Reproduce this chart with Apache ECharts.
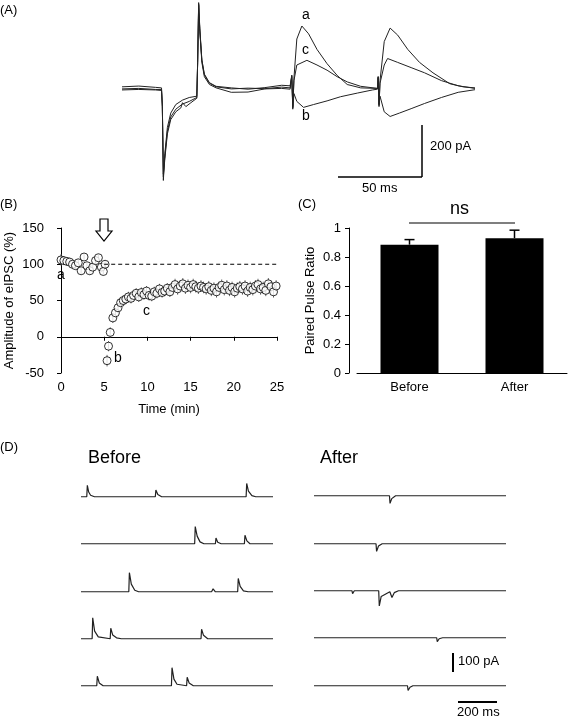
<!DOCTYPE html>
<html>
<head>
<meta charset="utf-8">
<script src="https://cdn.jsdelivr.net/npm/echarts@6/dist/echarts.min.js"></script>
<style>html,body{margin:0;padding:0;background:#fff}#main{width:572px;height:720px}</style>
</head>
<body>
<div id="main"></div>
<script>
var FONT = 'Liberation Sans';

// (A) evoked IPSC traces, [ms, pA]
var traceA = [[0,6],[10,9],[20,4],[23.5,2],[24,-60],[24.6,-354],[25.5,-250],[27,-150],[29,-95],[32,-62],[36,-45],[40,-35],[44.5,-30],[45,100],[45.6,330],[46.3,230],[47.5,110],[49,55],[52,22],[56,8],[65,2],[75,-3],[85,3],[95,12],[100,10],[101,50],[101.6,-80],[102.3,40],[104,190],[107,240],[111,210],[116,150],[122,95],[128,50],[134,15],[142,2],[152,0],[152.4,45],[152.9,-70],[153.5,30],[156,180],[159.5,232],[164,205],[170,150],[177,100],[185,60],[195,18],[203,6],[210,2]];
var traceC = [[0,-2],[10,0],[20,-4],[23.5,-4],[24,-70],[24.6,-340],[25.5,-270],[27,-175],[29,-120],[32,-90],[35,-75],[36,-55],[38,-70],[41,-55],[44.5,-38],[45,100],[45.6,325],[46.3,225],[47.5,108],[49,52],[52,20],[56,6],[65,-2],[75,1],[85,-1],[95,5],[100,2],[101,50],[101.6,-70],[102.3,30],[104,90],[110,108],[116,90],[122,70],[128,45],[134,25],[142,8],[152,0],[152.4,45],[152.9,-65],[153.5,20],[156,90],[158,115],[164,100],[172,80],[180,60],[190,30],[200,10],[210,0]];
var traceB = [[0,-6],[10,-4],[20,-6],[23.5,-8],[24,-70],[24.6,-330],[25.5,-260],[27,-165],[29,-110],[32,-80],[36,-60],[40,-50],[44.5,-35],[45,100],[45.6,320],[46.3,220],[47.5,100],[49,45],[52,15],[56,2],[65,-15],[75,-14],[85,-2],[95,0],[100,-3],[101,45],[101.6,-75],[102.3,-20],[104,-50],[108,-73],[114,-62],[122,-48],[130,-32],[140,-18],[149,-6],[152,-3],[152.4,40],[152.9,-60],[153.5,-30],[156,-90],[159.5,-108],[165,-95],[172,-78],[180,-58],[190,-35],[200,-15],[210,-5]];

// (B) time course [min, % amplitude, s.e.m.]
var bPoints = [[0,106,8],[0.33,105,6],[0.67,104,5],[1,103,5],[1.33,100,5],[1.67,98,5],[2,102,5],[2.33,91,5],[2.67,110,5],[3,98,5],[3.33,91,5],[3.67,96,5],[4,105,5],[4.33,109,5],[4.67,96,5],[4.9,90,5],[5.1,100,5],
  [5.33,-33,8],[5.5,-13,7],[5.7,6,7],[6,26,7],[6.3,33,7],[6.6,40,7],[6.9,47,7],[7.2,50,7],[7.5,52,7],[7.8,55,7],[8.1,53,7],
  [8.4,57,7],[8.7,60,7],[9,55,7],[9.3,61,7],[9.6,58,7],[9.9,63,7],[10.2,57,7],[10.5,56,7],[10.8,62,7],[11.1,60,7],[11.4,66,7],[11.7,61,7],[12,63,7],[12.3,67,7],[12.6,62,7],[12.9,68,7],[13.2,72,8],[13.5,66,8],[13.8,70,8],[14.1,73,8],[14.4,67,8],[14.7,71,8],[15,68,8],[15.3,72,8],[15.6,69,8],[15.9,67,8],[16.2,70,8],[16.5,68,8],[16.8,66,8],[17.1,69,8],[17.4,64,8],[17.7,67,8],[18,62,8],[18.3,68,8],[18.6,71,8],[18.9,65,8],[19.2,70,8],[19.5,64,8],[19.8,68,8],[20.1,62,8],[20.4,67,8],[20.7,69,8],[21,66,8],[21.3,70,8],[21.6,63,8],[21.9,68,8],[22.2,65,8],[22.5,70,8],[22.8,72,8],[23.1,66,8],[23.4,68,8],[23.7,64,8],[24,73,8],[24.3,69,8],[24.6,62,8],[24.9,70,8]];

// (C) paired pulse ratio
var cCats = ['Before', 'After'];
var cMeans = [0.885, 0.93];
var cErr = [0.035, 0.055];

// (D) spontaneous IPSC sweeps, [ms, pA]
var before1 = [[0,0],[30,0],[33,60],[40,25],[50,8],[70,0],[387,0],[390,35],[400,12],[420,0],[860,0],[863,70],[872,30],[890,6],[910,0],[1000,0]];
var before2 = [[0,0],[592,0],[595,90],[605,40],[620,10],[640,0],[700,0],[703,30],[712,8],[730,0],[851,0],[854,45],[864,15],[880,0],[1000,0]];
var before3 = [[0,0],[249,0],[252,100],[262,40],[280,8],[300,0],[680,0],[688,15],[700,0],[816,0],[819,70],[829,28],[846,5],[870,0],[1000,0]];
var before4 = [[0,0],[58,0],[61,110],[71,40],[90,10],[152,0],[155,55],[165,20],[185,5],[210,0],[625,0],[628,50],[638,18],[660,0],[1000,0]];
var before5 = [[0,0],[82,0],[85,50],[95,15],[115,0],[471,0],[474,95],[484,35],[500,8],[550,0],[553,45],[563,15],[585,0],[1000,0]];
var after1 = [[0,0],[393,0],[396,-40],[405,-15],[425,0],[1000,0]];
var after2 = [[0,0],[323,0],[326,-40],[336,-12],[355,0],[1000,0]];
var after3 = [[0,0],[198,0],[201,-15],[210,0],[337,0],[340,-80],[350,-30],[395,-5],[406,-35],[418,-10],[440,0],[1000,0]];
var after4 = [[0,0],[639,0],[642,-20],[652,-5],[670,0],[1000,0]];
var after5 = [[0,0],[487,0],[490,-25],[500,-8],[515,0],[773,0],[776,-10],[790,0],[1000,0]];
var beforeSweeps = [before1, before2, before3, before4, before5];
var afterSweeps = [after1, after2, after3, after4, after5];
var dBeforeBase = [497, 544, 592, 639, 686];
var dAfterBase = [496, 544, 591, 638, 686];

var chart = echarts.init(document.getElementById('main'));
var txt = {fontFamily: FONT, color: '#000', fontSize: 13};

var grids = [], xAxes = [], yAxes = [], series = [];

// (A)
grids.push({left: 122, top: 0, width: 353, height: 182});
xAxes.push({type: 'value', gridIndex: 0, min: 0, max: 210, show: false});
yAxes.push({type: 'value', gridIndex: 0, min: -360, max: 340, show: false});
[traceA, traceC, traceB].forEach(function (d) {
  series.push({type: 'line', xAxisIndex: 0, yAxisIndex: 0, data: d, showSymbol: false, silent: true,
    lineStyle: {color: '#222', width: 1}});
});

// (B)
grids.push({left: 61, top: 228, width: 216, height: 145});
xAxes.push({type: 'value', gridIndex: 1, min: 0, max: 25, interval: 5,
  name: 'Time (min)', nameLocation: 'middle', nameGap: 30, nameTextStyle: txt,
  axisLine: {lineStyle: {color: '#000'}}, axisTick: {length: 4, lineStyle: {color: '#000'}},
  axisLabel: txt, splitLine: {show: false}});
yAxes.push({type: 'value', gridIndex: 1, min: -50, max: 150, interval: 50, offset: 9,
  name: 'Amplitude of eIPSC (%)', nameLocation: 'middle', nameGap: 36, nameTextStyle: txt,
  axisLine: {show: true, lineStyle: {color: '#000'}}, axisTick: {show: true, length: 4, lineStyle: {color: '#000'}},
  axisLabel: txt, splitLine: {show: false}});
series.push({type: 'line', xAxisIndex: 1, yAxisIndex: 1, data: [[5, 100], [25, 100]], showSymbol: false, silent: true,
  lineStyle: {color: '#000', width: 1, type: [4, 3]}});
series.push({type: 'custom', xAxisIndex: 1, yAxisIndex: 1, silent: true,
  data: bPoints,
  renderItem: function (params, api) {
    var x = api.value(0), y = api.value(1), e = api.value(2);
    var p1 = api.coord([x, y + e]), p2 = api.coord([x, y - e]);
    return {type: 'line', shape: {x1: p1[0], y1: p1[1], x2: p2[0], y2: p2[1]}, style: {stroke: '#666', lineWidth: 1}};
  }});
series.push({type: 'scatter', xAxisIndex: 1, yAxisIndex: 1, silent: true,
  data: bPoints.map(function (p) { return [p[0], p[1]]; }),
  symbol: 'circle', symbolSize: 8, itemStyle: {color: '#fff', borderColor: '#000', borderWidth: 1}});

// (C)
grids.push({left: 357, top: 228, width: 210, height: 145});
xAxes.push({type: 'category', gridIndex: 2, data: cCats,
  axisLine: {lineStyle: {color: '#000'}}, axisTick: {show: false}, axisLabel: txt});
yAxes.push({type: 'value', gridIndex: 2, min: 0, max: 1, interval: 0.2, offset: 8,
  name: 'Paired Pulse Ratio', nameLocation: 'middle', nameGap: 32, nameTextStyle: txt,
  axisLine: {show: true, lineStyle: {color: '#000'}}, axisTick: {show: true, length: 4, lineStyle: {color: '#000'}},
  axisLabel: Object.assign({formatter: function (v) { return String(+v.toFixed(1)); }}, txt), splitLine: {show: false}});
series.push({type: 'custom', xAxisIndex: 2, yAxisIndex: 2, silent: true, z: 1,
  data: cMeans.map(function (m, i) { return [i, m, cErr[i]]; }),
  renderItem: function (params, api) {
    var i = api.value(0), m = api.value(1), e = api.value(2);
    var top = api.coord([i, m + e]), mid = api.coord([i, m]);
    return {type: 'group', children: [
      {type: 'line', shape: {x1: top[0], y1: top[1], x2: mid[0], y2: mid[1]}, style: {stroke: '#000', lineWidth: 1.5}},
      {type: 'line', shape: {x1: top[0] - 5, y1: top[1], x2: top[0] + 5, y2: top[1]}, style: {stroke: '#000', lineWidth: 1.5}}
    ]};
  }});
series.push({type: 'bar', xAxisIndex: 2, yAxisIndex: 2, data: cMeans, barWidth: 58, silent: true, z: 2,
  itemStyle: {color: '#000'}});

// (D)
function addSweep(d, left, base, idx) {
  grids.push({left: left, top: base - 25, width: 192, height: 40});
  xAxes.push({type: 'value', gridIndex: idx, min: 0, max: 1000, show: false});
  yAxes.push({type: 'value', gridIndex: idx, min: -80, max: 130, show: false});
  series.push({type: 'line', xAxisIndex: idx, yAxisIndex: idx, data: d, showSymbol: false, silent: true,
    lineStyle: {color: '#222', width: 1.2}});
}
beforeSweeps.forEach(function (d, i) { addSweep(d, 81, dBeforeBase[i], grids.length); });
afterSweeps.forEach(function (d, i) { addSweep(d, 314, dAfterBase[i], grids.length); });

function t(x, y, s, size) {
  return {type: 'text', left: x, top: y, style: {text: s, font: (size || 13) + 'px ' + FONT, fill: '#000'}};
}
function ln(x1, y1, x2, y2, w) {
  return {type: 'line', shape: {x1: x1, y1: y1, x2: x2, y2: y2}, style: {stroke: '#000', lineWidth: w || 1.5}};
}

chart.setOption({
  animation: false,
  grid: grids, xAxis: xAxes, yAxis: yAxes, series: series,
  graphic: [
    t(0, 4, '(A)'), t(0, 198, '(B)'), t(298, 198, '(C)'), t(0, 441, '(D)'),
    t(302, 8, 'a', 14), t(302, 43, 'c', 14), t(302, 109, 'b', 14),
    ln(422, 125, 422, 177), ln(338, 177, 422, 177),
    t(430, 140, '200 pA'), t(362, 182, '50 ms'),
    t(57, 268, 'a', 14), t(143, 304, 'c', 14), t(114, 351, 'b', 14),
    {type: 'polygon', shape: {points: [[100, 219], [108, 219], [108, 231], [112, 231], [104, 241], [96, 231], [100, 231]]},
      style: {fill: '#fff', stroke: '#000', lineWidth: 1.2}},
    ln(409, 223, 515, 223, 1.2), t(450, 200, 'ns', 18),
    t(88, 449, 'Before', 18), t(320, 449, 'After', 18),
    ln(453, 653, 453, 672, 2), t(458, 655, '100 pA'),
    ln(458, 702, 497, 702, 2), t(457, 706, '200 ms')
  ]
});
</script>
</body>
</html>
